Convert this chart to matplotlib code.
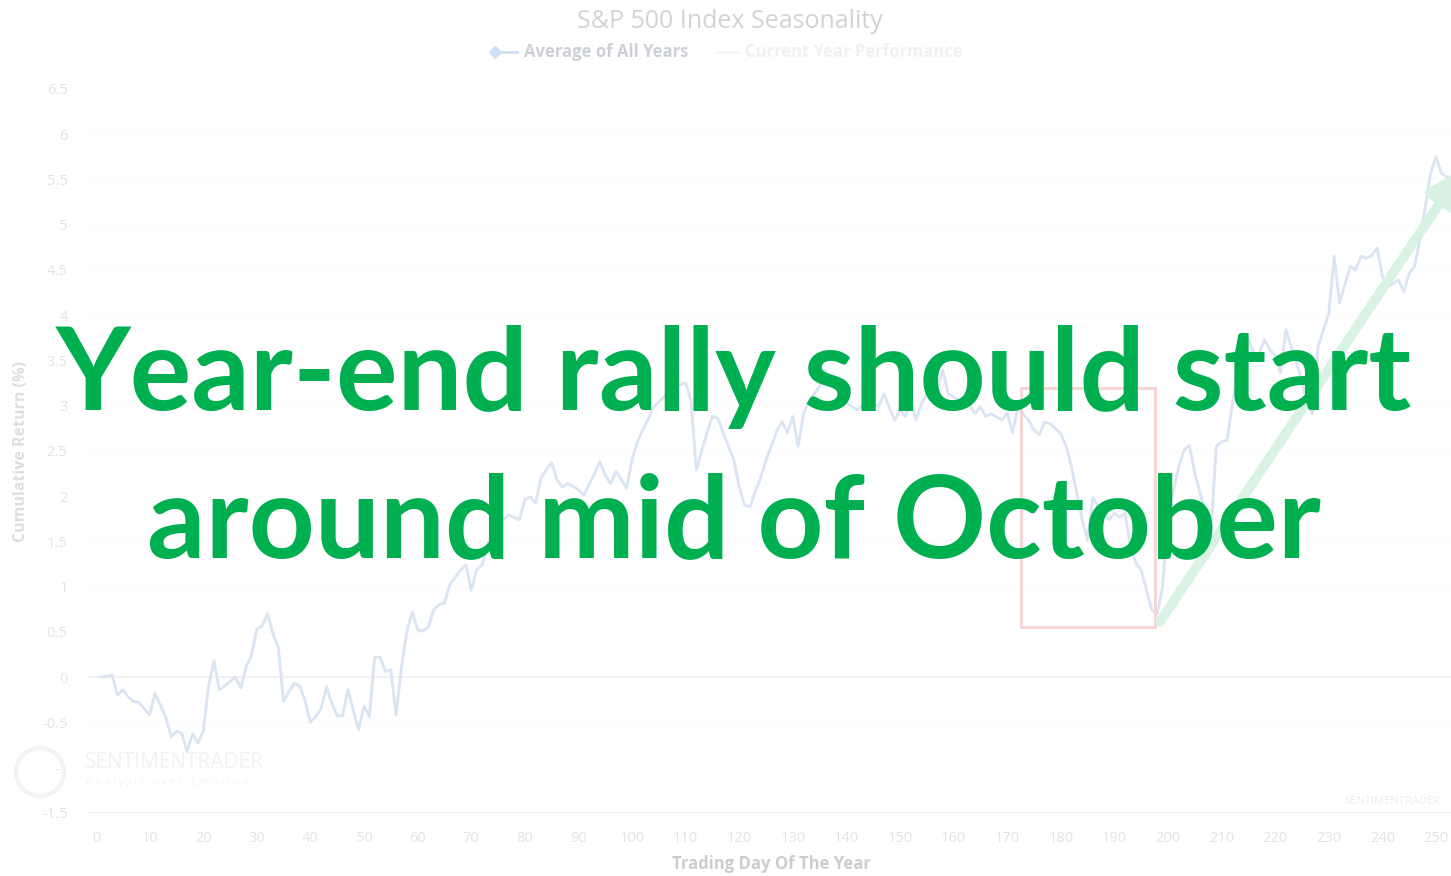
import matplotlib
matplotlib.use("Agg")
import matplotlib.pyplot as plt
from matplotlib.patches import Rectangle, Circle
from matplotlib.lines import Line2D

# ---- data ----
days = [1, 3, 4, 5, 6, 7, 8, 10, 11, 13, 14, 15, 16, 17, 18, 19, 20, 21, 22, 23,
        24, 26, 27, 28, 29, 30, 31, 32, 33, 34, 35, 36, 37, 38, 39, 40, 41, 42, 43, 44,
        45, 46, 47, 48, 49, 50, 51, 52, 53, 54, 55, 56, 57, 58, 59, 60, 61, 62, 63, 64,
        65, 66, 67, 68, 69, 70, 71, 72, 73, 74, 75, 76, 77, 79, 80, 81, 82, 83, 84, 85,
        86, 87, 88, 90, 91, 93, 94, 95, 96, 97, 99, 100, 101, 102, 103, 104, 106, 108, 110, 111,
        112, 113, 114, 115, 116, 117, 118, 119, 120, 121, 122, 123, 124, 125, 126, 127, 128, 129, 130, 131,
        132, 133, 135, 136, 138, 140, 142, 144, 146, 147, 149, 150, 151, 152, 153, 154, 155, 157, 158, 159,
        161, 162, 164, 165, 166, 167, 169, 170, 171, 172, 174, 175, 176, 177, 178, 180, 181, 182, 183, 184,
        185, 186, 187, 189, 190, 191, 192, 193, 194, 195, 196, 197, 198, 199, 200, 202, 203, 204, 205, 207,
        208, 209, 210, 211, 212, 213, 214, 215, 216, 217, 218, 219, 220, 221, 222, 223, 225, 226, 227, 228,
        230, 231, 232, 234, 235, 236, 237, 238, 239, 240, 241, 243, 244, 245, 246, 247, 248, 249, 250, 251,
        252]
avg_all_years = [0.00, 0.02, -0.20, -0.14, -0.22, -0.27, -0.28, -0.42, -0.18, -0.44, -0.66, -0.60, -0.62, -0.82, -0.63, -0.73, -0.60, -0.10, 0.18, -0.14,
        -0.10, 0.00, -0.12, 0.11, 0.24, 0.53, 0.56, 0.70, 0.48, 0.33, -0.27, -0.16, -0.07, -0.10, -0.26, -0.50, -0.44, -0.35, -0.11, -0.29,
        -0.43, -0.43, -0.14, -0.37, -0.58, -0.32, -0.44, 0.22, 0.22, 0.06, 0.08, -0.42, 0.12, 0.50, 0.72, 0.52, 0.51, 0.55, 0.74, 0.80,
        0.82, 1.02, 1.10, 1.18, 1.24, 0.96, 1.18, 1.24, 1.45, 1.62, 1.70, 1.74, 1.79, 1.74, 1.96, 1.99, 1.92, 2.20, 2.29, 2.37,
        2.18, 2.10, 2.14, 2.07, 2.01, 2.25, 2.38, 2.23, 2.14, 2.27, 2.09, 2.40, 2.60, 2.73, 2.85, 2.98, 3.10, 3.21, 3.25, 3.06,
        2.29, 2.50, 2.70, 2.88, 2.86, 2.70, 2.55, 2.40, 2.10, 1.90, 1.88, 2.05, 2.20, 2.40, 2.55, 2.72, 2.82, 2.70, 2.88, 2.55,
        2.91, 3.05, 3.21, 3.39, 3.28, 3.03, 2.95, 3.06, 2.99, 3.13, 2.84, 2.95, 2.88, 3.06, 2.84, 3.02, 3.13, 3.21, 3.39, 3.13,
        3.06, 3.10, 2.91, 2.99, 2.88, 2.91, 2.84, 2.92, 2.70, 2.97, 2.84, 2.73, 2.68, 2.82, 2.80, 2.69, 2.55, 2.32, 2.03, 1.74,
        1.51, 1.99, 1.88, 1.74, 1.81, 1.77, 1.81, 1.44, 1.26, 1.18, 0.96, 0.74, 0.70, 1.00, 1.81, 2.32, 2.51, 2.56, 2.25, 1.81,
        1.59, 2.55, 2.60, 2.62, 3.00, 3.40, 3.80, 3.73, 3.58, 3.58, 3.73, 3.62, 3.55, 3.36, 3.84, 3.65, 3.28, 2.99, 2.91, 3.65,
        4.02, 4.65, 4.13, 4.54, 4.50, 4.65, 4.63, 4.66, 4.74, 4.43, 4.31, 4.39, 4.26, 4.46, 4.54, 4.83, 5.20, 5.57, 5.75, 5.57,
        5.53]

x_ticks = list(range(0, 251, 10))
y_ticks = [-1.5, -1, -0.5, 0, 0.5, 1, 1.5, 2, 2.5, 3, 3.5, 4, 4.5, 5, 5.5, 6, 6.5]
y_tick_labels = ["-1.5", "-1", "-0.5", "0", "0.5", "1", "1.5", "2", "2.5", "3", "3.5",
                 "4", "4.5", "5", "5.5", "6", "6.5"]

box_days = [172.6, 197.6]
box_vals = [0.55, 3.19]
arrow_start = (198.5, 0.61)
arrow_end = (255.0, 5.62)

title = "S&P 500 Index Seasonality"
legend_labels = ["Average of All Years", "Current Year Performance"]
x_label = "Trading Day Of The Year"
y_label = "Cumulative Return (%)"
overlay_lines = ["Year-end rally should start", "around mid of October"]

# ---- figure ----
W, H = 1451, 876
fig = plt.figure(figsize=(W / 100, H / 100), dpi=100)
fig.patch.set_facecolor("white")

ax = fig.add_axes([87 / W, 1 - 812.7 / H, 1 - 87 / W, (812.7 - 89) / H])
ax.set_xlim(-1.68, 252.8)
ax.set_ylim(-1.5, 6.5)
for s in ax.spines.values():
    s.set_visible(False)

# gridlines (very faint, as in the washed-out reference)
for yv in y_ticks:
    if yv in (0, -1.5):
        ax.axhline(yv, color="#f1f1f1", lw=1.5, zorder=0)
    else:
        ax.axhline(yv, color="#fcfcfc", lw=1.0, zorder=0)

ax.plot(days, avg_all_years, color="#dae4f2", lw=2.0, zorder=2)

ax.set_xticks(x_ticks)
ax.set_xticklabels([str(t) for t in x_ticks])
ax.set_yticks(y_ticks)
ax.set_yticklabels(y_tick_labels)
ax.tick_params(axis="both", length=0, labelsize=10.5, labelcolor="#e3e3e3")
ax.tick_params(axis="x", pad=13)
ax.tick_params(axis="y", pad=14)
for lab in ax.get_xticklabels() + ax.get_yticklabels():
    lab.set_family("Open Sans")

# red box
ax.add_patch(Rectangle((box_days[0], box_vals[0]), box_days[1] - box_days[0],
                       box_vals[1] - box_vals[0], fill=False, ec="#f7d3d3", lw=2, zorder=3))

# green arrow
ax.annotate("", xy=arrow_end, xytext=arrow_start,
            arrowprops=dict(arrowstyle="-|>", color="#d8f2e3", lw=7, mutation_scale=50,
                            shrinkA=0, shrinkB=0),
            annotation_clip=False, zorder=3)

# title & legend
fig.text(730 / W, 1 - 21 / H, title, ha="center", va="center", fontsize=18,
         color="#d3d3d3", family="Open Sans")
fig.add_artist(Line2D([495 / W, 517 / W], [1 - 52 / H] * 2, color="#cfdff2", lw=2,
                      marker="D", markersize=6, markevery=[0], transform=fig.transFigure))
fig.text(524 / W, 1 - 52 / H, legend_labels[0], ha="left", va="center", fontsize=12,
         color="#cdd0d6", family="Open Sans", fontweight="bold")
fig.add_artist(Line2D([716 / W, 738 / W], [1 - 52 / H] * 2, color="#f3f3f3", lw=2,
                      transform=fig.transFigure))
fig.text(745 / W, 1 - 52 / H, legend_labels[1], ha="left", va="center", fontsize=12,
         color="#f1f1f1", family="Open Sans", fontweight="bold")

# axis labels
fig.text(771 / W, 1 - 864 / H, x_label, ha="center", va="center", fontsize=12,
         color="#cdcdcd", family="Open Sans", fontweight="bold")
fig.text(21 / W, 1 - 452 / H, y_label, ha="center", va="center", rotation=90,
         fontsize=11.5, color="#dedede", family="Open Sans", fontweight="bold")

# watermarks
fig.patches.append(Circle((40, H - 772), 24, transform=None, fill=False,
                          ec="#f3f3f3", lw=3))
fig.text(85 / W, 1 - 763 / H, "SENTIMENTRADER", ha="left", va="center", fontsize=15,
         color="#f2f2f2", family="Open Sans")
fig.text(86 / W, 1 - 783 / H, "A n a l y s i s   o v e r   E m o t i o n", ha="left",
         va="center", fontsize=7.5, color="#f4f4f4", family="Open Sans")
fig.text(1441 / W, 1 - 802 / H, "SENTIMENTRADER", ha="right", va="center", fontsize=8,
         color="#ededed", family="Open Sans")

# overlay text
fig.text(734 / W, 1 - 410 / H, overlay_lines[0], ha="center", va="baseline",
         fontsize=83, color="#00b050", family="Lato", fontweight="bold")
fig.text(734 / W, 1 - 557 / H, overlay_lines[1], ha="center", va="baseline",
         fontsize=83, color="#00b050", family="Lato", fontweight="bold")

fig.savefig("out.png", dpi=100, facecolor="white")
